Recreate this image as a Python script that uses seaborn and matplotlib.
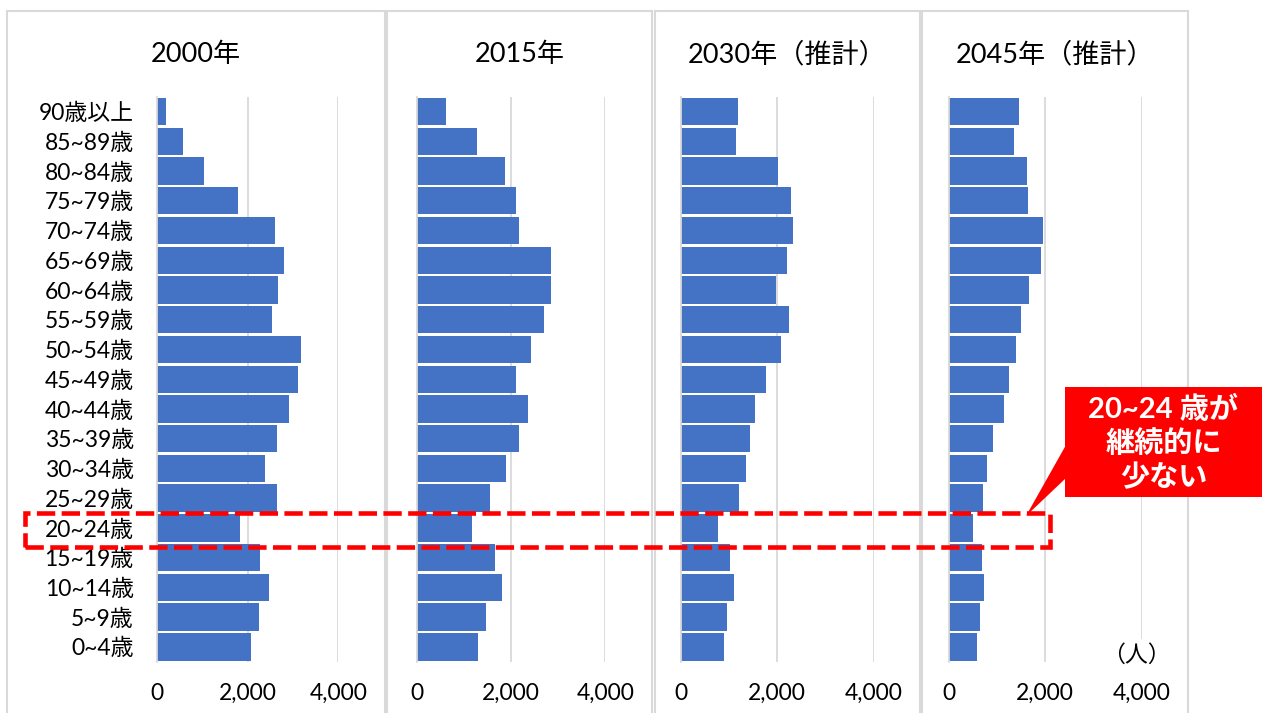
import matplotlib
matplotlib.use("Agg")
import matplotlib.pyplot as plt
import seaborn as sns
import pandas as pd
from matplotlib.patches import Rectangle, Polygon

ages = ["90歳以上", "85~89歳", "80~84歳", "75~79歳", "70~74歳", "65~69歳", "60~64歳",
        "55~59歳", "50~54歳", "45~49歳", "40~44歳", "35~39歳", "30~34歳", "25~29歳",
        "20~24歳", "15~19歳", "10~14歳", "5~9歳", "0~4歳"]

titles = ["2000年", "2015年", "2030年（推計）", "2045年（推計）"]

pop_2000 = [190, 570, 1040, 1780, 2610, 2810, 2670, 2530, 3170, 3120, 2910, 2640, 2390,
            2640, 1830, 2270, 2470, 2250, 2060]
pop_2015 = [620, 1270, 1880, 2110, 2160, 2840, 2850, 2690, 2430, 2110, 2360, 2160, 1890,
            1560, 1170, 1670, 1800, 1470, 1290]
pop_2030 = [1180, 1150, 2010, 2290, 2320, 2200, 1980, 2250, 2070, 1760, 1530, 1430, 1350,
            1200, 780, 1020, 1100, 960, 900]
pop_2045 = [1460, 1360, 1620, 1650, 1960, 1910, 1670, 1490, 1400, 1260, 1140, 910, 790,
            720, 510, 700, 740, 650, 580]

xticks = [0, 2000, 4000]
xticklabels = ["0", "2,000", "4,000"]
unit_label = "（人）"
callout_text = "20~24 歳が\n継続的に\n少ない"

series = [pop_2000, pop_2015, pop_2030, pop_2045]

sns.set_style("white")
plt.rcParams["font.family"] = ["Lato", "Noto Sans CJK JP", "DejaVu Sans"]

W, H = 1266, 713
fig = plt.figure(figsize=(W / 100, H / 100), dpi=100)


def fx(px):
    return px / W


def fy(py):
    return 1 - py / H


# panel boxes (pixel coords, top-origin)
boxes = [(7, 385), (387, 652), (655, 919.5), (922.5, 1188)]
box_top = 11
for (x0, x1) in boxes:
    fig.add_artist(Rectangle((fx(x0), fy(H + 5)), fx(x1) - fx(x0), fy(box_top) - fy(H + 5),
                             transform=fig.transFigure, facecolor="none",
                             edgecolor="#D9D9D9", linewidth=1.5, zorder=0))

# axes areas (0 .. 4000)
ax_x = [(157.3, 338.3), (416.7, 605.3), (680.7, 873.7), (948.7, 1141.7)]
ax_top, ax_bot = 96.7, 661.7

blue = "#4472C4"
grid_c = "#D9D9D9"

for i, vals in enumerate(series):
    x0, x1 = ax_x[i]
    ax = fig.add_axes([fx(x0), fy(ax_bot), fx(x1) - fx(x0), fy(ax_top) - fy(ax_bot)])
    ax.patch.set_alpha(0)
    df = pd.DataFrame({"age": ages, "pop": vals})
    sns.barplot(data=df, x="pop", y="age", orient="h", color=blue, saturation=1,
                width=0.92, ax=ax, linewidth=0, errorbar=None)
    ax.set_xlim(0, 4000)
    ax.set_ylim(len(ages) - 0.5, -0.5)
    ax.set_xticks(xticks)
    ax.set_xticklabels(xticklabels, fontsize=16.5, color="#000000")
    ax.set_axisbelow(True)
    ax.grid(axis="x", color=grid_c, linewidth=1.3)
    ax.grid(axis="y", visible=False)
    for s in ["top", "right", "bottom"]:
        ax.spines[s].set_visible(False)
    ax.spines["left"].set_color(grid_c)
    ax.spines["left"].set_linewidth(1.3)
    ax.tick_params(axis="x", length=0, pad=15)
    ax.tick_params(axis="y", length=0, pad=17)
    ax.set_xlabel("")
    ax.set_ylabel("")
    if i == 0:
        ax.set_yticklabels(ages, fontsize=16.5, color="#000000")
    else:
        ax.tick_params(axis="y", labelleft=False)
    bx0, bx1 = boxes[i]
    fig.text(fx((bx0 + bx1) / 2), fy(55), titles[i], ha="center", va="center",
             fontsize=19.5, color="#000000")

# unit label
fig.text(fx(1136), fy(655), unit_label, ha="center", va="center", fontsize=16.5,
         color="#000000", zorder=12,
         bbox=dict(facecolor="white", edgecolor="none", pad=4))

# red dashed highlight rectangle
fig.add_artist(Rectangle((fx(25), fy(546.7)), fx(1050) - fx(25), fy(513.3) - fy(546.7),
                         transform=fig.transFigure, facecolor="none", edgecolor="#FF0000",
                         linewidth=3.3, linestyle=(0, (4, 1.4)), zorder=10))

# callout
fig.add_artist(Polygon([(fx(1066), fy(445)), (fx(1026), fy(516)), (fx(1066), fy(478))],
                       closed=True, transform=fig.transFigure, facecolor="#FF0000",
                       edgecolor="none", zorder=11))
fig.add_artist(Rectangle((fx(1065), fy(497.3)), fx(1262) - fx(1065), fy(386.7) - fy(497.3),
                         transform=fig.transFigure, facecolor="#FF0000", edgecolor="none",
                         zorder=11))
fig.text(fx(1163.5), fy(443), callout_text, ha="center", va="center", fontsize=21,
         fontweight="bold", color="white", linespacing=1.3, zorder=13)

fig.savefig("out.png", dpi=100)
